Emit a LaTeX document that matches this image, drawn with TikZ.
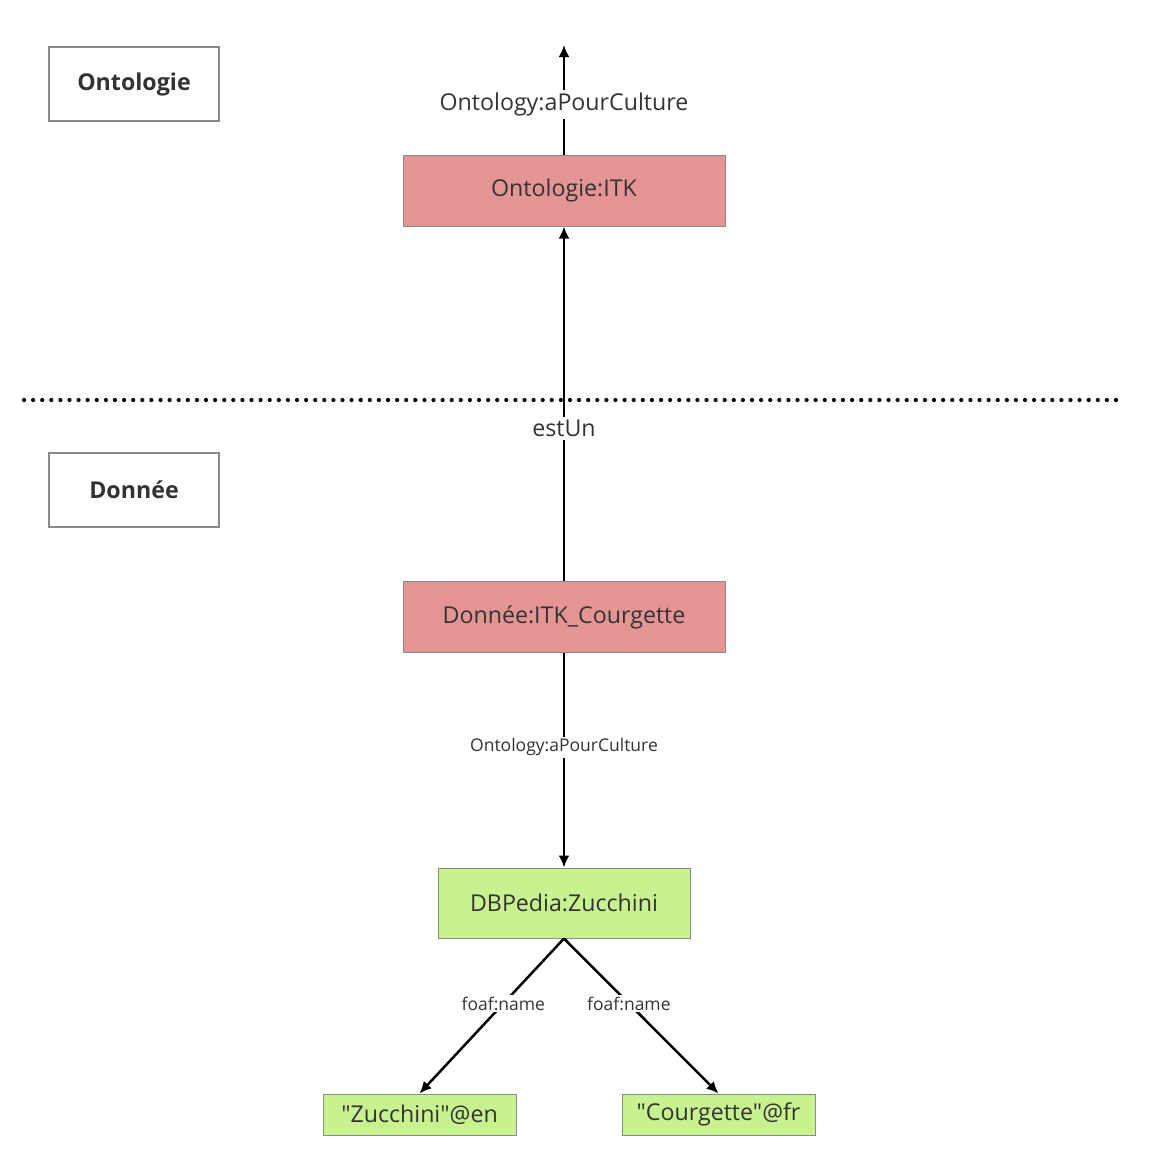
\documentclass[tikz,border=0pt]{standalone}
\usepackage{fontspec}
\setmainfont{Open Sans}[Ligatures=TeXOff]
\usetikzlibrary{arrows.meta}
\definecolor{redfill}{HTML}{E59494}
\definecolor{greenfill}{HTML}{C8F290}
\definecolor{boxline}{HTML}{8A8A8A}
\definecolor{txt}{HTML}{333333}
\tikzset{
  every node/.style={text=txt},
  labelbox/.style={draw=boxline, line width=1.2pt, fill=white, minimum width=170pt, minimum height=74pt, font=\fontsize{23.2}{26}\selectfont\bfseries},
  redbox/.style={draw=boxline, line width=1pt, fill=redfill, minimum width=322pt, minimum height=71pt, font=\fontsize{23.2}{26}\selectfont},
  greenbox/.style={draw=boxline, line width=1pt, fill=greenfill, font=\fontsize{23.2}{26}\selectfont},
  conn/.style={line width=2.5pt, -{Latex[length=12pt,width=11pt]}},
  biglbl/.style={fill=white, inner sep=3pt, font=\fontsize{23.2}{26}\selectfont},
  smalllbl/.style={fill=white, inner sep=2pt, font=\fontsize{17.5}{20}\selectfont},
}
\begin{document}
\begin{tikzpicture}[x=1pt,y=1pt]
\useasboundingbox[fill=white] (0,0) rectangle (1153,-1154);
% separator
\draw[line width=4.2pt, dash pattern=on 0pt off 9.1pt, line cap=round] (24,-400) -- (1120,-400);
% category boxes
\node[labelbox] (onto) at (134,-84) {Ontologie};
\node[labelbox] (donnee) at (134,-490) {Donnée};
% main nodes
\node[redbox] (itk) at (564,-190.5) {Ontologie:ITK};
\node[redbox] (courg) at (564,-617) {Donnée:ITK\_Courgette};
\node[greenbox, minimum width=252pt, minimum height=70pt] (dbp) at (564,-903) {DBPedia:Zucchini};
\node[greenbox, minimum width=193pt, minimum height=41pt] (en) at (419.5,-1114.5) {"Zucchini"@en};
\node[greenbox, minimum width=193pt, minimum height=41pt] (fr) at (718.5,-1114.5) {"Courgette"@fr};
\coordinate (topend) at (564,-45);
% connectors
\draw[conn] (itk.north) -- node[biglbl, pos=0.46] {Ontology:aPourCulture} (topend);
\draw[conn] (courg.north) -- node[biglbl, pos=0.43] {estUn} (itk.south);
\draw[conn] (courg.south) -- node[smalllbl, pos=0.44] {Ontology:aPourCulture} (dbp.north);
\draw[conn] (dbp.south) -- node[smalllbl, pos=0.42] {foaf:name} (en.north);
\draw[conn] (dbp.south) -- node[smalllbl, pos=0.42] {foaf:name} (fr.north);
\end{tikzpicture}
\end{document}
